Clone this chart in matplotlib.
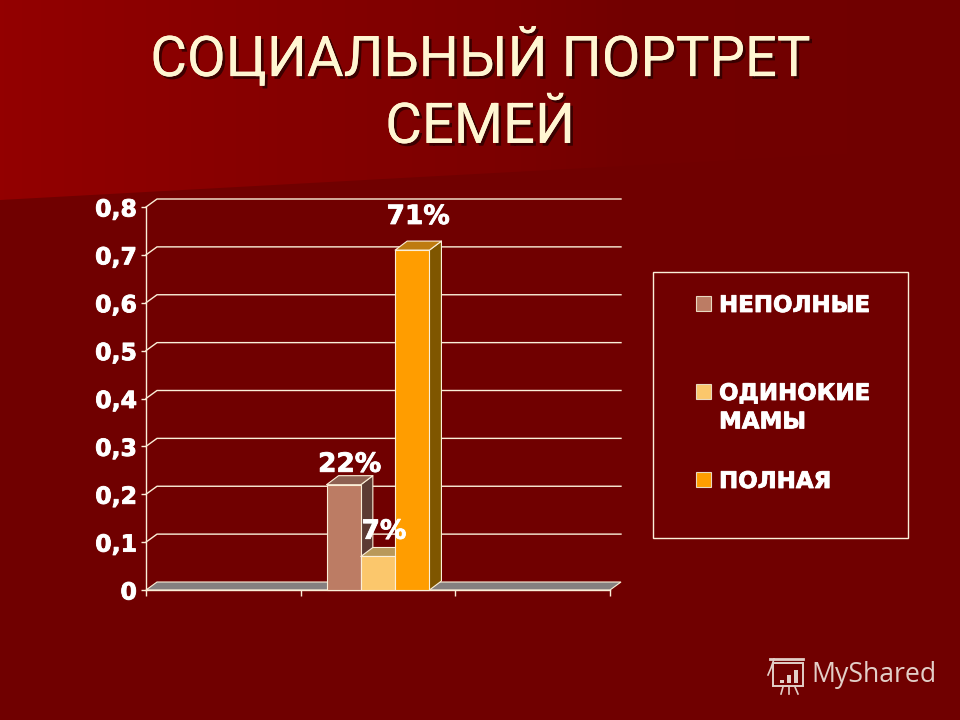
import numpy as np
import matplotlib
matplotlib.use("Agg")
import matplotlib.pyplot as plt
import matplotlib.patheffects as pe
from matplotlib.colors import LinearSegmentedColormap
from matplotlib.patches import Polygon, Rectangle
from matplotlib.ticker import FuncFormatter

title_text = "СОЦИАЛЬНЫЙ ПОРТРЕТ\nСЕМЕЙ"
series_names = ["НЕПОЛНЫЕ", "ОДИНОКИЕ\nМАМЫ", "ПОЛНАЯ"]
series_values = [0.22, 0.07, 0.71]
value_labels = ["22%", "7%", "71%"]
y_ticks = [0, 0.1, 0.2, 0.3, 0.4, 0.5, 0.6, 0.7, 0.8]

front_colors = ["#BC7C64", "#FBC76C", "#FF9D00"]
top_colors = ["#8E6152", "#B9995A", "#BE7B10"]
side_colors = ["#5C3B33", "#6E4A30", "#7F5600"]
line_color = "#FBEFD8"
bg_color = "#700000"

W, H = 960, 720
fig = plt.figure(figsize=(W / 100, H / 100), dpi=100, facecolor=bg_color)

heavy = [pe.withStroke(linewidth=0.6, foreground="white")]

# Slide background and page furniture, in pixel coordinates
bg = fig.add_axes([0, 0, 1, 1], zorder=0)
bg.set_xlim(0, W)
bg.set_ylim(H, 0)
bg.axis("off")
cmap = LinearSegmentedColormap.from_list(
    "wash", [(0, "#930000"), (0.15, "#8C0000"), (0.5, "#7D0000"), (0.65, "#730000"), (1, "#700000")])
img = bg.imshow(np.linspace(0, 1, 256)[None, :], extent=[0, W, H, 0], cmap=cmap,
                aspect="auto", zorder=0)
img.set_clip_path(Polygon([(0, 0), (W, 0), (W, 148), (420, 177), (0, 200)],
                          transform=bg.transData))

# Chart
ax = fig.add_axes([146 / W, (H - 590) / H, 464 / W, 383 / H], zorder=1)
ax.patch.set_alpha(0)
ax.set_xlim(0, 3)
ax.set_ylim(0, 0.8)
for s in ["top", "right"]:
    ax.spines[s].set_visible(False)
for s in ["left", "bottom"]:
    ax.spines[s].set_color(line_color)
    ax.spines[s].set_linewidth(1.0)
ax.set_xticks([0, 1, 2, 3])
ax.set_xticklabels([])
ax.set_yticks(y_ticks)
ax.yaxis.set_major_formatter(FuncFormatter(lambda v, _: f"{v:g}".replace(".", ",")))
ax.tick_params(axis="y", colors="white", color=line_color, length=3.6, width=1, pad=2.9)
ax.tick_params(axis="x", color=line_color, length=4.5, width=1)
for t in ax.get_yticklabels():
    t.set_fontfamily("DejaVu Sans")
    t.set_fontweight("bold")
    t.set_fontsize(17)
    t.set_path_effects(heavy)

dx, dy = 11 / 154.67, 8 / 478.75   # depth of the pseudo-3D box in data units
bar_dx, bar_dy = 12 / 154.67, 9 / 478.75

for v in y_ticks[1:]:
    ax.plot([0, dx, 3 + dx], [v, v + dy, v + dy], color=line_color, lw=1.0,
            clip_on=False, zorder=1)

ax.add_patch(Polygon([(0, 0), (3, 0), (3 + dx, dy), (dx, dy)], closed=True,
                     fc="#858080", ec=line_color, lw=0.8, clip_on=False, zorder=2))

bar_w = 34.3 / 154.67
x0 = 1.5 - 1.5 * bar_w
for i, v in enumerate(series_values):
    l, r = x0 + i * bar_w, x0 + (i + 1) * bar_w
    z = 3 + i
    kw = dict(ec=line_color, lw=0.8, clip_on=False, zorder=z, joinstyle="round")
    ax.add_patch(Polygon([(r, 0), (r + bar_dx, bar_dy), (r + bar_dx, v + bar_dy), (r, v)],
                         fc=side_colors[i], **kw))
    ax.add_patch(Polygon([(l, v), (r, v), (r + bar_dx, v + bar_dy), (l + bar_dx, v + bar_dy)],
                         fc=top_colors[i], **kw))
    ax.add_patch(Rectangle((l, 0), bar_w, v, fc=front_colors[i], **kw))

label_pads = [-1.5, 2, 8]
for i, v in enumerate(series_values):
    xc = x0 + (i + 0.5) * bar_w + bar_dx / 2
    ax.annotate(value_labels[i], (xc, v + bar_dy), xytext=(0, label_pads[i]),
                textcoords="offset points", ha="center", va="bottom", color="white",
                fontsize=19, fontweight="bold", family="DejaVu Sans", zorder=10,
                annotation_clip=False, path_effects=heavy)

# Overlay: title, legend, watermark
ov = fig.add_axes([0, 0, 1, 1], zorder=2)
ov.set_xlim(0, W)
ov.set_ylim(H, 0)
ov.axis("off")
ov.patch.set_alpha(0)

ov.text(480, 91, title_text, ha="center", va="center", color="#FFF6D2",
        family="Roboto", fontsize=40.5, linespacing=1.33,
        path_effects=[pe.withSimplePatchShadow(offset=(2, -2), shadow_rgbFace="#2A0000",
                                               alpha=0.8), pe.Normal()])

ov.add_patch(Rectangle((653, 272), 255, 266, fc="none", ec=line_color, lw=1.0))
legend_rows = [304, 392, 480]
for name, color, y in zip(series_names, front_colors, legend_rows):
    ov.add_patch(Rectangle((696, y - 8), 15, 15, fc=color, ec="#E8D8C0", lw=0.8))
    ov.text(719, y - 10, name, ha="left", va="top", color="white", fontsize=16.5,
            fontweight="bold", family="DejaVu Sans", linespacing=1.3, path_effects=heavy)

mark = "#E3CFC8"
ov.text(811, 675, "MyShared", ha="left", va="center", color=mark, fontsize=19.2,
        family="Open Sans")
ov.add_patch(Rectangle((773, 663), 30, 23, fc="none", ec=mark, lw=1.4))
ov.plot([770, 803], [659, 659], color=mark, lw=2)
ov.plot([774, 771, 768], [659, 668, 675], color=mark, lw=1.2)
for bx, bt in zip([780, 787, 794], [680, 675, 670]):
    ov.add_patch(Rectangle((bx, bt), 4, 683 - bt, fc=mark, ec="none"))
ov.plot([783, 781], [687, 694], color=mark, lw=1.2)
ov.plot([789, 789], [687, 694], color=mark, lw=1.2)
ov.plot([795, 798], [687, 694], color=mark, lw=1.2)

fig.savefig("out.png", dpi=100, facecolor=bg_color)
